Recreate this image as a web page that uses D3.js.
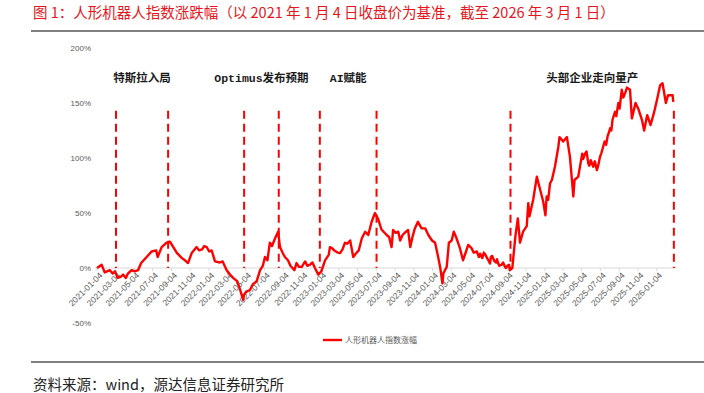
<!DOCTYPE html>
<html lang="zh">
<head>
<meta charset="UTF-8">
<title>人形机器人指数涨跌幅</title>
<script src="https://cdn.jsdelivr.net/npm/d3@7/dist/d3.min.js"></script>
<style>
  html,body{margin:0;padding:0;background:#fff;}
  svg{display:block;}
  .cn{font-family:"Noto Sans CJK SC","Microsoft YaHei",sans-serif;}
  .axis text{font-family:"Liberation Sans",Arial,sans-serif;fill:#595959;}
</style>
</head>
<body>
<svg id="svg" width="704" height="393"></svg>
<script>
// ---- data ----
const dates = [
  "2021-01-04","2021-01-19","2021-01-25","2021-01-29","2021-02-15","2021-02-24","2021-03-04","2021-03-12","2021-03-22","2021-03-30",
  "2021-04-08","2021-04-15","2021-04-27","2021-05-07","2021-05-18","2021-05-28","2021-06-15","2021-07-01","2021-07-16","2021-07-21",
  "2021-08-03","2021-08-19","2021-08-30","2021-09-10","2021-09-22","2021-10-08","2021-10-18","2021-10-28","2021-11-09","2021-11-25",
  "2021-12-03","2021-12-13","2021-12-20","2021-12-28","2022-01-05","2022-01-13","2022-01-24","2022-02-09","2022-02-18","2022-03-03",
  "2022-03-14","2022-03-24","2022-04-06","2022-04-14","2022-04-26","2022-04-29","2022-05-06","2022-05-18","2022-05-27","2022-06-09",
  "2022-06-20","2022-06-29","2022-07-06","2022-07-14","2022-07-22","2022-07-29","2022-08-08","2022-08-18","2022-08-24","2022-09-02",
  "2022-09-09","2022-09-19","2022-09-27","2022-10-10","2022-10-17","2022-10-25","2022-11-03","2022-11-14","2022-11-21","2022-11-30",
  "2022-12-08","2022-12-16","2022-12-27","2023-01-06","2023-01-18","2023-01-30","2023-02-03","2023-02-10","2023-02-17","2023-02-28",
  "2023-03-08","2023-03-16","2023-03-24","2023-03-31","2023-04-10","2023-04-20","2023-04-28","2023-05-08","2023-05-18","2023-05-29",
  "2023-06-08","2023-06-19","2023-06-30","2023-07-11","2023-07-21","2023-07-28","2023-08-07","2023-08-15","2023-08-23","2023-08-28",
  "2023-09-06","2023-09-14","2023-09-20","2023-09-28","2023-10-09","2023-10-16","2023-10-23","2023-10-30","2023-11-07","2023-11-17",
  "2023-11-29","2023-12-11","2023-12-21","2024-01-02","2024-01-12","2024-01-22","2024-01-29","2024-02-05","2024-02-08","2024-02-19",
  "2024-02-26","2024-03-06","2024-03-13","2024-03-22","2024-04-02","2024-04-12","2024-04-22","2024-04-29","2024-05-10","2024-05-17",
  "2024-05-27","2024-06-03","2024-06-07","2024-06-14","2024-06-19","2024-06-24","2024-07-04","2024-07-09","2024-07-12","2024-07-16",
  "2024-07-19","2024-07-24","2024-07-29","2024-08-01","2024-08-05","2024-08-09","2024-08-16","2024-08-21","2024-08-27","2024-08-30",
  "2024-09-04","2024-09-09","2024-09-12","2024-09-20","2024-09-30","2024-10-08","2024-10-15","2024-10-25","2024-11-06","2024-11-11",
  "2024-11-15","2024-11-27","2024-12-09","2024-12-19","2024-12-30","2025-01-06","2025-01-10","2025-01-15","2025-01-21","2025-01-27",
  "2025-02-06","2025-02-17","2025-02-21","2025-03-05","2025-03-17","2025-03-27","2025-04-07","2025-04-11","2025-04-23","2025-05-06",
  "2025-05-09","2025-05-15","2025-05-20","2025-05-26","2025-05-29","2025-06-03","2025-06-11","2025-06-16","2025-06-23","2025-06-27",
  "2025-07-03","2025-07-07","2025-07-11","2025-07-18","2025-07-23","2025-07-28","2025-08-01","2025-08-05","2025-08-09","2025-08-13",
  "2025-08-21","2025-08-25","2025-09-01","2025-09-05","2025-09-12","2025-09-17","2025-09-23","2025-09-29","2025-10-09","2025-10-15",
  "2025-10-27","2025-11-06","2025-11-17","2025-11-24","2025-12-04","2025-12-15","2025-12-26","2026-01-05","2026-01-15","2026-01-23",
  "2026-02-03","2026-02-10","2026-02-25","2026-02-27"
];
const pct = [
  0,3,-1,-4,-2,-5,-3,-9,-8,-6,
  -9,-5,-2,-3,-2,4.5,10,15,16,10,
  19,23,24,19,13.6,9,7,4.5,13.6,19,
  16,17,20,19,15,16,6,5,6,-2,
  -6,-9,-12,-18,-29,-24,-21.5,-20,-15,-12,
  -2,2,10,7,23,20,27,33,19,13.6,
  10,7,2,-2,4.5,1,1,6,2,3,
  5,0,-6,-3,7,12,19,18,16,14,
  13.6,17,23,22,25,10,13,16,27,33,
  30,42,50,44,35,33,30,28,19,34.5,
  32,33,25,30,33,34.5,19,28,36,42,
  36,36,30,25,23,10,0,-14,-5,1,
  23,25,33,27,18,7,15,21,18,14,
  15,10,13,9,14,12,7,4,10,11,
  9,6,5,8,4,2,3,5,1,0,
  2,3,-2,0,29,45,23,33,38,59,
  47,62,83,72,60,48,65,62,77,80,
  92,110,119,115,119,101,65,80,83,104,
  99,104,106,95,93,98,92,97,89,93,
  101,104,108,115,112,120,123,127,125,135,
  142,138,150,145,162,155,159,164,162,136,
  150,144,134.5,125,139,130,141,153,166,168,
  150,157,157,151
];
// dashed event markers (pairs) and their labels
const eventDates = ["2021-03-07","2021-08-24","2022-04-29","2022-08-20","2023-01-01","2023-07-05","2024-09-14","2026-03-01"];
const eventLabels = ["特斯拉入局","Optimus发布预期","AI赋能","头部企业走向量产"];
const eventTop = 143;
const yTicks = [-50,0,50,100,150,200];
const xTickLabels = [
  "2021-01-04","2021-03-04","2021-05-04","2021-07-04","2021-09-04","2021-11-04",
  "2022-01-04","2022-03-04","2022-05-04","2022-07-04","2022-09-04","2022-11-04",
  "2023-01-04","2023-03-04","2023-05-04","2023-07-04","2023-09-04","2023-11-04",
  "2024-01-04","2024-03-04","2024-05-04","2024-07-04","2024-09-04","2024-11-04",
  "2025-01-04","2025-03-04","2025-05-04","2025-07-04","2025-09-04","2025-11-04",
  "2026-01-04"
];
const seriesName = "人形机器人指数涨幅";

const parse = d3.timeParse("%Y-%m-%d");
const data = dates.map((d,i)=>({date:parse(d), v:pct[i]}))
  .sort((a,b)=>a.date-b.date);

const svg = d3.select("#svg");
const red = "#ff0000";

// title + rules
svg.append("text").attr("class","cn")
  .attr("x",33).attr("y",18)
  .attr("font-size",14.5).attr("fill","#e8141b")
  .text("图 1：人形机器人指数涨跌幅（以 2021 年 1 月 4 日收盘价为基准，截至 2026 年 3 月 1 日）");
svg.append("line").attr("x1",31).attr("x2",704).attr("y1",31).attr("y2",31)
  .attr("stroke","#555").attr("stroke-width",1.5);
svg.append("line").attr("x1",31).attr("x2",704).attr("y1",362).attr("y2",362)
  .attr("stroke","#555").attr("stroke-width",1.5);
svg.append("text").attr("class","cn")
  .attr("x",33).attr("y",390)
  .attr("font-size",14.5).attr("fill","#222")
  .text("资料来源：wind，源达信息证券研究所");

// scales
const x = d3.scaleTime()
  .domain([parse("2021-01-04"), parse("2026-01-04")])
  .range([97, 656.7]);
const y = d3.scaleLinear().domain([-50,200]).range([323,48]);

// y axis labels
const yg = svg.append("g").attr("class","axis");
yg.selectAll("text").data(yTicks).enter().append("text")
  .attr("x",91).attr("y",d=>y(d)).attr("dy","0.35em")
  .attr("text-anchor","end").attr("font-size",8)
  .text(d=>d+"%");

// zero line
svg.append("line")
  .attr("x1",95).attr("x2",676).attr("y1",y(0)).attr("y2",y(0))
  .attr("stroke","#d9d9d9").attr("stroke-width",1);

// x labels
const xg = svg.append("g").attr("class","axis");
xg.selectAll("line").data(xTickLabels).enter().append("line")
  .attr("x1",d=>x(parse(d))).attr("x2",d=>x(parse(d)))
  .attr("y1",y(0)).attr("y2",y(0)+3)
  .attr("stroke","#d9d9d9");
xg.selectAll("text").data(xTickLabels).enter().append("text")
  .attr("transform",d=>"translate("+(x(parse(d))+6)+","+(y(0)+8)+") rotate(-45)")
  .attr("text-anchor","end").attr("font-size",8.5)
  .text(d=>d);

// event dashed lines
svg.selectAll(".evt").data(eventDates).enter().append("line")
  .attr("class","evt")
  .attr("x1",d=>x(parse(d))).attr("x2",d=>x(parse(d)))
  .attr("y1",y(eventTop)).attr("y2",y(0))
  .attr("stroke",red).attr("stroke-width",2)
  .attr("stroke-dasharray","8,5");

// event labels, centred between each pair
svg.selectAll(".evtLabel").data(eventLabels).enter().append("text")
  .attr("class","evtLabel")
  .attr("x",(d,i)=>(x(parse(eventDates[2*i]))+x(parse(eventDates[2*i+1])))/2)
  .attr("y",78).attr("dy","0.35em")
  .attr("text-anchor","middle")
  .attr("font-family","'Liberation Mono','Noto Sans CJK SC',monospace")
  .attr("font-weight","bold").attr("font-size",11.5).attr("fill","#1a1a1a")
  .text(d=>d);

// series line
const line = d3.line().x(d=>x(d.date)).y(d=>y(d.v));
svg.append("path").datum(data)
  .attr("d",line).attr("fill","none")
  .attr("stroke",red).attr("stroke-width",2.4)
  .attr("stroke-linejoin","round");

// legend
svg.append("line").attr("x1",323).attr("x2",342).attr("y1",340).attr("y2",340)
  .attr("stroke",red).attr("stroke-width",2.4);
svg.append("text").attr("class","cn")
  .attr("x",345).attr("y",340).attr("dy","0.35em")
  .attr("font-size",8).attr("fill","#595959")
  .text(seriesName);
</script>
</body>
</html>
